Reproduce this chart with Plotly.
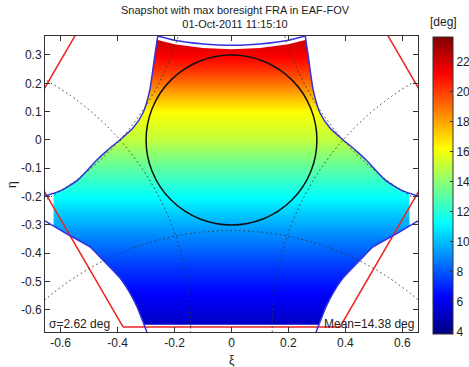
import plotly.graph_objects as go

# ---------------- data ----------------
xi_range = [-0.655, 0.655]
eta_range = [-0.678, 0.367]

# FRA [deg] per eta row (colour is nearly constant along xi)
eta_rows = [-0.72, -0.65, -0.60, -0.55, -0.50, -0.45, -0.40, -0.35, -0.30, -0.25,
            -0.20, -0.15, -0.10, -0.05, 0.00, 0.05, 0.10, 0.15, 0.20, 0.25,
            0.30, 0.33, 0.36, 0.40]
fra_rows = [4.6, 5.2, 5.7, 6.2, 6.8, 7.4, 8.1, 8.8, 9.6, 10.4,
            11.3, 12.2, 13.1, 14.0, 15.0, 15.6, 16.2, 17.6, 19.0, 20.3,
            21.3, 21.8, 22.2, 22.6]
xi_cols = [-0.70, 0.0, 0.70]

zmin, zmax = 3.85, 23.65
cbar_ticks = [4, 6, 8, 10, 12, 14, 16, 18, 20, 22]

# red hexagon (period cell)
hex_xi = [-0.381, 0.381, 0.762, 0.381, -0.381, -0.762, -0.381]
hex_eta = [-0.66, -0.66, 0.0, 0.66, 0.66, 0.0, -0.66]

# dotted unit circles (sky-horizon aliases)
alias_xi = [1.143, -1.143, 0.0, 1.143, -1.143]
alias_eta = [0.66, 0.66, -1.32, -0.66, -0.66]
alias_r = 1.0

# black reference circle
circ_r = 0.3

# blue Earth-alias boundaries (left half; right half is the mirror image)
top_xi = [-0.259, -0.2, -0.1, 0.0, 0.1, 0.2, 0.259]
top_eta = [0.367, 0.352, 0.339, 0.334, 0.339, 0.352, 0.367]

ul_xi = [-0.259, -0.269, -0.287, -0.311, -0.346, -0.392, -0.434, -0.473, -0.539, -0.602, -0.655]
ul_eta = [0.367, 0.300, 0.176, 0.095, 0.042, 0.000, -0.035, -0.071, -0.141, -0.180, -0.198]

ll_xi = [-0.655, -0.585, -0.497, -0.462, -0.392, -0.357, -0.332, -0.311, -0.297]
ll_eta = [-0.286, -0.328, -0.378, -0.413, -0.487, -0.540, -0.589, -0.642, -0.678]

# extent of the coloured area
clip_xi = 0.625
bottom_eta = -0.652
top_gap = 0.014

sigma_text = "σ=2.62 deg"
mean_text = "Mean=14.38 deg"
title_text = "Snapshot with max boresight FRA in EAF-FOV<br>01-Oct-2011 11:15:10"

# ---------------- figure ----------------
W, H = 469, 367
ML, MR, MT, MB = 45, 51, 36, 35
PW, PH = W - ML - MR, H - MT - MB


def px(x):
    return (x - ML) / PW


def py(y):
    return (H - MB - y) / PH


jet = [[0.0, "rgb(0,0,128)"], [0.125, "rgb(0,0,255)"], [0.375, "rgb(0,255,255)"],
       [0.625, "rgb(255,255,0)"], [0.875, "rgb(255,0,0)"], [1.0, "rgb(128,0,0)"]]

fig = go.Figure()

fig.add_trace(go.Heatmap(
    x=xi_cols, y=eta_rows, z=[[v] * len(xi_cols) for v in fra_rows],
    zmin=zmin, zmax=zmax, colorscale=jet, zsmooth="best",
    colorbar=dict(x=px(433), xanchor="left", xpad=0, ypad=0,
                  y=py(185.5), yanchor="middle", len=297 / PH, lenmode="fraction",
                  thickness=20, thicknessmode="pixels",
                  outlinecolor="#333", outlinewidth=1,
                  tickvals=cbar_ticks, ticks="inside", ticklen=3, tickcolor="#333",
                  tickfont=dict(family="Liberation Sans, Arial", size=12, color="#222")),
    hoverinfo="skip", showscale=True))

white = dict(mode="lines", fill="toself", fillcolor="white",
             line=dict(width=0, color="white"), hoverinfo="skip", showlegend=False)


def side_mask(sign):
    xs = [sign * -0.72, sign * ul_xi[0]]
    ys = [0.42, 0.42]
    for a, b in zip(ul_xi[:-1], ul_eta[:-1]):
        xs.append(sign * a); ys.append(b)
    xs += [sign * -clip_xi, sign * -clip_xi]
    ys += [-0.188, -0.304]
    for a, b in zip(ll_xi[1:], ll_eta[1:]):
        xs.append(sign * a); ys.append(b)
    xs += [sign * ll_xi[-1], sign * -0.72]
    ys += [-0.72, -0.72]
    return xs, ys


for s in (1, -1):
    mx, my = side_mask(s)
    fig.add_trace(go.Scatter(x=mx, y=my, **white))

# top strip above the top arc
fig.add_trace(go.Scatter(x=[top_xi[0]] + top_xi + [top_xi[-1]],
                         y=[0.42] + [e - top_gap for e in top_eta] + [0.42], **white))
# bottom strip
fig.add_trace(go.Scatter(x=[-0.4, 0.4, 0.4, -0.4], y=[bottom_eta, bottom_eta, -0.72, -0.72], **white))

# red hexagon
fig.add_trace(go.Scatter(x=hex_xi, y=hex_eta, mode="lines",
                         line=dict(color="#ee2222", width=1.5), hoverinfo="skip", showlegend=False))

blue = dict(mode="lines", line=dict(color="#3333dd", width=1.5, shape="spline", smoothing=0.6),
            hoverinfo="skip", showlegend=False)
fig.add_trace(go.Scatter(x=top_xi, y=top_eta, **blue))
for s in (1, -1):
    fig.add_trace(go.Scatter(x=[s * v for v in ul_xi], y=ul_eta, **blue))
    fig.add_trace(go.Scatter(x=[s * v for v in ll_xi], y=ll_eta, **blue))

shapes = []
for cx, cy in zip(alias_xi, alias_eta):
    shapes.append(dict(type="circle", xref="x", yref="y",
                       x0=cx - alias_r, x1=cx + alias_r, y0=cy - alias_r, y1=cy + alias_r,
                       line=dict(color="#333", width=1, dash="1.5px,3px")))
shapes.append(dict(type="circle", xref="x", yref="y",
                   x0=-circ_r, x1=circ_r, y0=-circ_r, y1=circ_r,
                   line=dict(color="#111", width=1.5)))

font = dict(family="Liberation Sans, Arial", size=12, color="#222")
axis_common = dict(showline=True, linecolor="#333", linewidth=1, mirror="allticks",
                   ticks="inside", ticklen=5, tickcolor="#333", showgrid=False, zeroline=False,
                   tickfont=font, automargin=False)

fig.update_layout(
    width=W, height=H, margin=dict(l=ML, r=MR, t=MT, b=MB, autoexpand=False),
    paper_bgcolor="white", plot_bgcolor="white", showlegend=False,
    shapes=shapes,
    xaxis=dict(range=xi_range,
               tickvals=[-0.6, -0.4, -0.2, 0, 0.2, 0.4, 0.6],
               ticktext=["-0.6", "-0.4", "-0.2", "0", "0.2", "0.4", "0.6"], **axis_common),
    yaxis=dict(range=eta_range,
               tickvals=[0.3, 0.2, 0.1, 0, -0.1, -0.2, -0.3, -0.4, -0.5, -0.6],
               ticktext=["0.3", "0.2", "0.1", "0", "-0.1", "-0.2", "-0.3", "-0.4", "-0.5", "-0.6"],
               **axis_common),
    annotations=[
        dict(text=title_text, x=px(235), y=py(17), xref="paper", yref="paper",
             showarrow=False, xanchor="center", yanchor="middle",
             font=dict(family="Liberation Sans, Arial", size=11, color="#222")),
        dict(text="[deg]", x=px(443), y=py(22), xref="paper", yref="paper",
             showarrow=False, xanchor="center", yanchor="middle", font=font),
        dict(text="ξ", x=px(232), y=py(360), xref="paper", yref="paper",
             showarrow=False, xanchor="center", yanchor="middle", font=font),
        dict(text="η", x=px(12), y=py(185), xref="paper", yref="paper", textangle=-90,
             showarrow=False, xanchor="center", yanchor="middle", font=font),
        dict(text=sigma_text, x=px(47), y=py(324), xref="paper", yref="paper",
             showarrow=False, xanchor="left", yanchor="middle", font=font),
        dict(text=mean_text, x=px(416), y=py(324), xref="paper", yref="paper",
             showarrow=False, xanchor="right", yanchor="middle", font=font),
    ],
)

fig.write_html("out.html", config={"displayModeBar": False},
               post_script="document.body.style.margin='0px';document.body.style.padding='0px';")
